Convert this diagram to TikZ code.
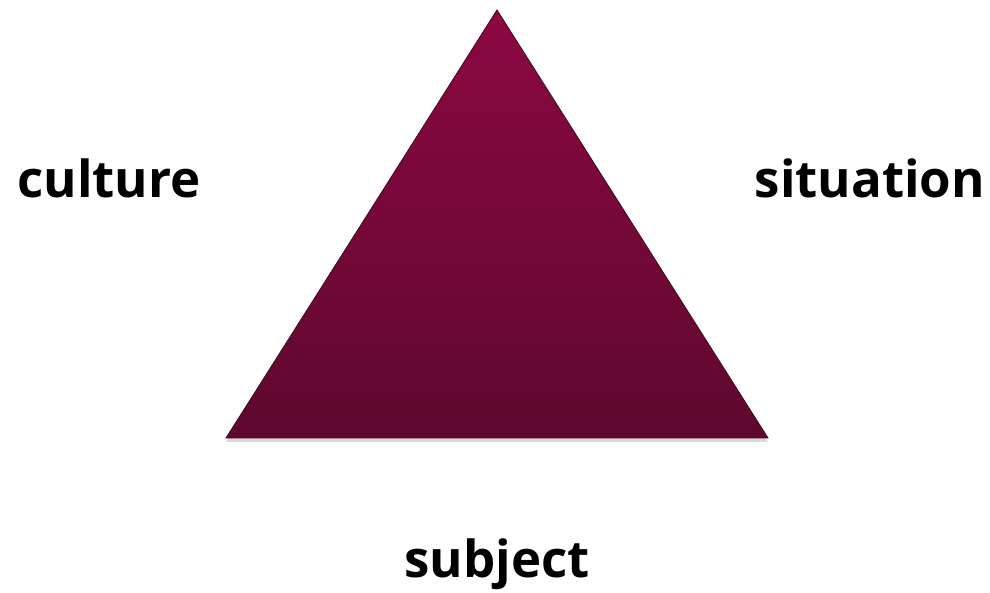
\documentclass[tikz,border=0pt]{standalone}
\usepackage{fontspec}
\setmainfont{Open Sans}
\usetikzlibrary{shadows}
\definecolor{wineTop}{RGB}{140,8,66}
\definecolor{wineBot}{RGB}{94,8,46}
\definecolor{wineEdge}{RGB}{70,10,35}

\begin{document}
\begin{tikzpicture}[
  x=1pt, y=1pt,
  word/.style={anchor=base, font=\fontsize{51}{55}\selectfont\bfseries, inner sep=0pt},
  wedge/.style={top color=wineTop, bottom color=wineBot, draw=wineEdge, line width=0.8pt,
                drop shadow={shadow xshift=0pt, shadow yshift=-4pt, opacity=0.3}},
]
  \useasboundingbox (0,0) rectangle (990,593);

  % Triangle corners
  \coordinate (apex)  at (497,583);
  \coordinate (left)  at (226,155);
  \coordinate (right) at (768,155);
  \fill[wedge] (apex) -- (right) -- (left) -- cycle;

  % Labels
  \node[word] (culture)   at (109,395) {culture};
  \node[word] (situation) at (870,395) {situation};
  \node[word] (subject)   at (497,15)  {subject};
\end{tikzpicture}
\end{document}
